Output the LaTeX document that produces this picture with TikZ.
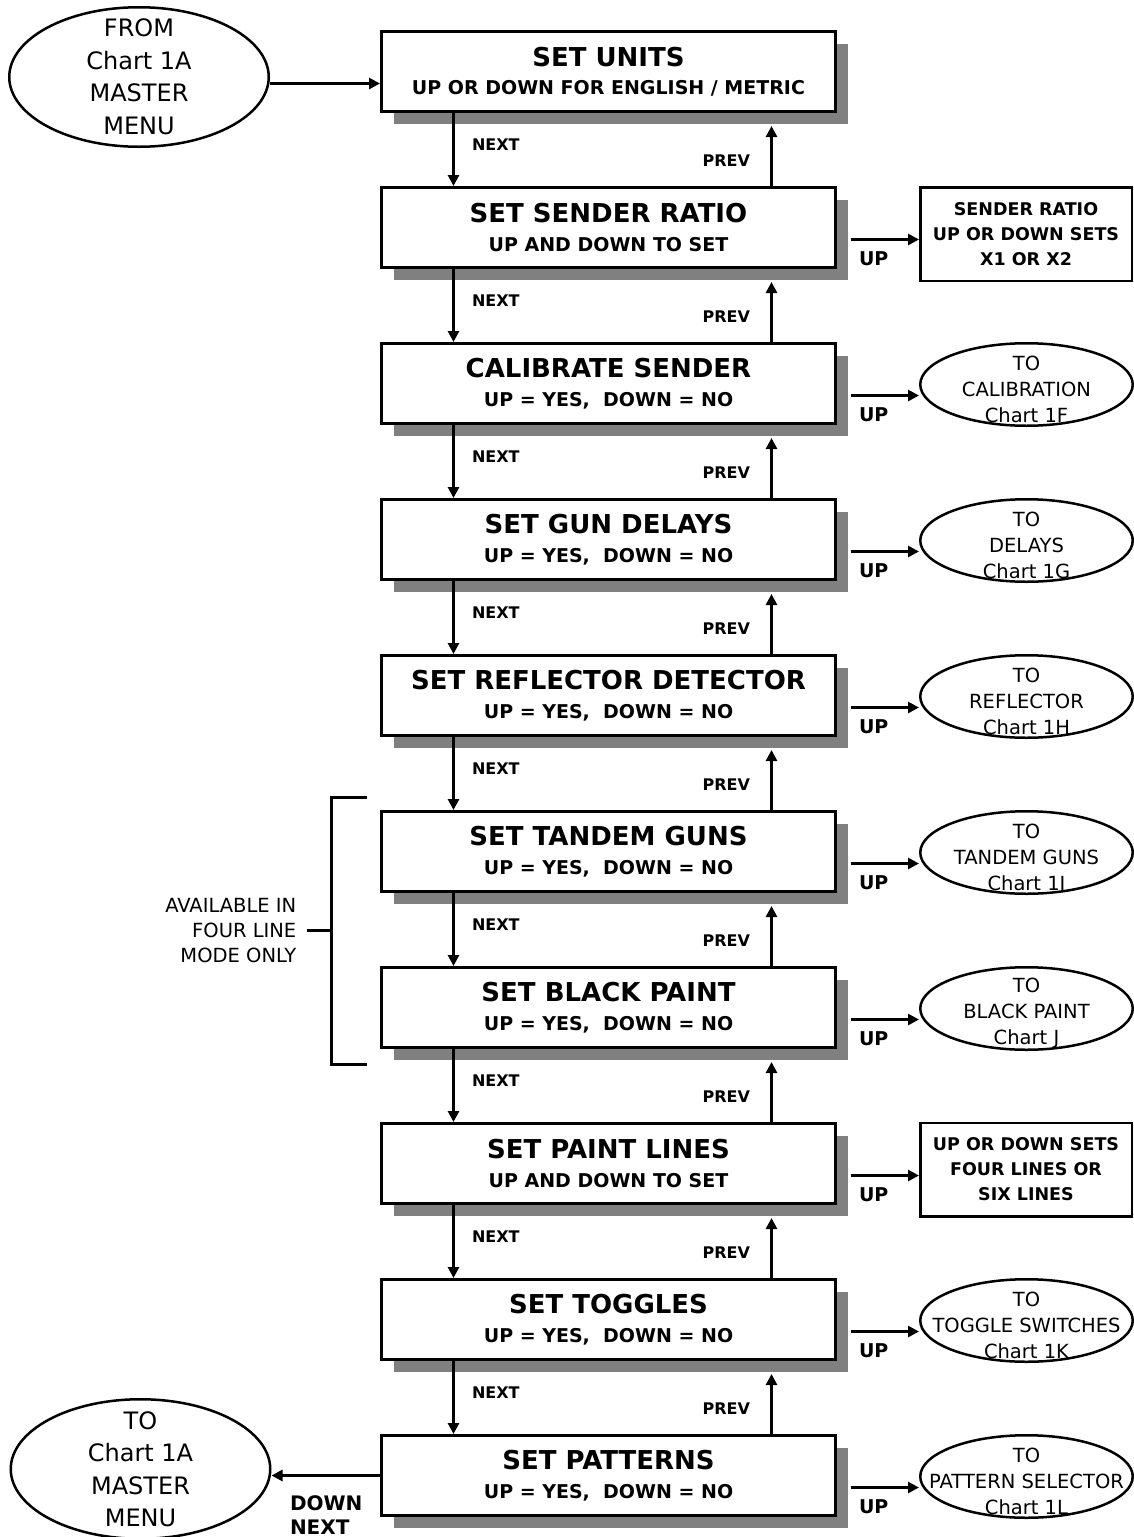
\documentclass[tikz,border=0pt]{standalone}
\usepackage{fontspec}
\setmainfont{DejaVu Sans}
\usetikzlibrary{arrows.meta,positioning,calc,shapes.geometric,shadows}
\definecolor{shadowgray}{HTML}{808080}
\newcommand{\titlef}{\fontsize{26}{30}\selectfont}
\newcommand{\yesno}{UP = YES,\ \ DOWN = NO}
\newcommand{\unitsub}{UP OR DOWN FOR ENGLISH / METRIC}

\begin{document}
\begin{tikzpicture}[x=1pt, y=-1pt, >={Triangle[length=11pt,width=11pt]},
    stepbox/.style={draw, line width=3pt, fill=white, minimum width=454pt, minimum height=80pt,
        inner sep=0pt, align=center, font=\bfseries\fontsize{19}{28.5}\selectfont,
        drop shadow={shadow xshift=12pt, shadow yshift=-12pt, fill=shadowgray, opacity=1}},
    setbox/.style={draw, line width=2.5pt, minimum width=211.5pt, minimum height=93.5pt,
        inner sep=0pt, align=center, font=\bfseries\fontsize{17.5}{25}\selectfont},
    chartoval/.style={draw, ellipse, line width=2.5pt, minimum width=212.5pt, minimum height=82.5pt, inner sep=0pt},
    menuoval/.style={draw, ellipse, line width=2.5pt, minimum width=259.5pt, minimum height=139.5pt, inner sep=0pt},
    ovaltext/.style={align=center, inner sep=0pt, yshift=-5pt, font=\fontsize{19.5}{26}\selectfont},
    menutext/.style={align=center, inner sep=0pt, font=\fontsize{24}{32.5}\selectfont},
    availtext/.style={align=right, inner sep=0pt, font=\fontsize{19.5}{25}\selectfont},
    flow/.style={line width=3pt, ->},
    brace/.style={line width=3pt},
    lbl/.style={inner sep=0pt, font=\bfseries\fontsize{16}{16}\selectfont},
    uplbl/.style={inner sep=0pt, anchor=north west, xshift=7pt, yshift=-11pt, font=\bfseries\fontsize{19}{19}\selectfont},
    downlbl/.style={inner sep=0pt, align=left, anchor=north west, xshift=17pt, yshift=-19pt, font=\bfseries\fontsize{20}{24}\selectfont}]
    \useasboundingbox (0,0) rectangle (1134,1537);

    % Menu boxes
    \foreach \n/\ttl/\sub in {1/SET UNITS/\unitsub, 2/SET SENDER RATIO/UP AND DOWN TO SET,
        3/CALIBRATE SENDER/\yesno, 4/SET GUN DELAYS/\yesno, 5/SET REFLECTOR DETECTOR/\yesno,
        6/SET TANDEM GUNS/\yesno, 7/SET BLACK PAINT/\yesno, 8/SET PAINT LINES/UP AND DOWN TO SET,
        9/SET TOGGLES/\yesno, 10/SET PATTERNS/\yesno}
        \node[stepbox] (b\n) at (608.5, {71.5+156*(\n-1)}) {{\titlef \ttl}\\\sub};

    % Entry and exit
    \node[menuoval, label={[menutext]center:{FROM\\Chart 1A\\MASTER\\MENU}}] (frommenu) at (139, 77) {};
    \node[menuoval, label={[menutext]center:{TO\\Chart 1A\\MASTER\\MENU}}] (tomenu) at (140.5, 1469) {};

    % Sub charts
    \node[setbox] (ratio) at (1026, 234) {SENDER RATIO\\UP OR DOWN SETS\\X1 OR X2};
    \node[chartoval, label={[ovaltext]center:{TO\\CALIBRATION\\Chart 1F}}] (cal) at (1026.5, 384.5) {};
    \node[chartoval, label={[ovaltext]center:{TO\\DELAYS\\Chart 1G}}] (delays) at (1026.5, 540.5) {};
    \node[chartoval, label={[ovaltext]center:{TO\\REFLECTOR\\Chart 1H}}] (refl) at (1026.5, 696.5) {};
    \node[chartoval, label={[ovaltext]center:{TO\\TANDEM GUNS\\Chart 1I}}] (tandem) at (1026.5, 852.5) {};
    \node[chartoval, label={[ovaltext]center:{TO\\BLACK PAINT\\Chart J}}] (black) at (1026.5, 1008.5) {};
    \node[setbox] (lines) at (1026, 1169.5) {UP OR DOWN SETS\\FOUR LINES OR\\SIX LINES};
    \node[chartoval, label={[ovaltext]center:{TO\\TOGGLE SWITCHES\\Chart 1K}}] (toggle) at (1026.5, 1320.5) {};
    \node[chartoval, label={[ovaltext]center:{TO\\PATTERN SELECTOR\\Chart 1L}}] (pattern) at (1026.5, 1476.5) {};

    % NEXT / PREV
    \foreach \a [evaluate=\a as \b using int(\a+1)] in {1,...,9} {
        \draw[flow] ($(b\a.south west)+(73.5,0)$) -- node[lbl, pos=.44, right=17pt] {NEXT} ($(b\b.north west)+(73.5,0)$);
        \draw[flow] ($(b\b.north east)+(-65.5,0)$) -- node[lbl, pos=.42, left=20pt] {PREV} ($(b\a.south east)+(-65.5,13)$);
    }

    % UP
    \foreach \n/\t in {2/ratio, 3/cal, 4/delays, 5/refl, 6/tandem, 7/black, 8/lines, 9/toggle, 10/pattern} {
        \path ($(b\n.east)+(13.5,12)$) coordinate (up\n);
        \draw[flow] (up\n) -- node[uplbl, pos=0] {UP} (up\n -| \t.west);
    }

    \path ($(b1.west)+(0,12)$) coordinate (in1);
    \draw[flow] (in1 -| frommenu.east) -- (in1);
    \draw[flow] (b10.west) -- node[downlbl, pos=1] {DOWN\\NEXT} (b10.west -| tomenu.east);

    % Four line bracket
    \coordinate (brtop) at ($(b6.north west)+(-13.5,-13)$);
    \coordinate (brbot) at ($(b7.south west)+(-13.5,15)$);
    \draw[brace] (brtop) -- ++(-35,0) |- (brbot);
    \coordinate (brmid) at ($(brtop)!.5!(brbot)+(-35,0)$);
    \node[availtext, left=35pt of brmid] (avail) {AVAILABLE IN\\FOUR LINE\\MODE ONLY};
    \draw[brace, shorten >=10pt] (brmid) -- (avail);
\end{tikzpicture}
\end{document}
